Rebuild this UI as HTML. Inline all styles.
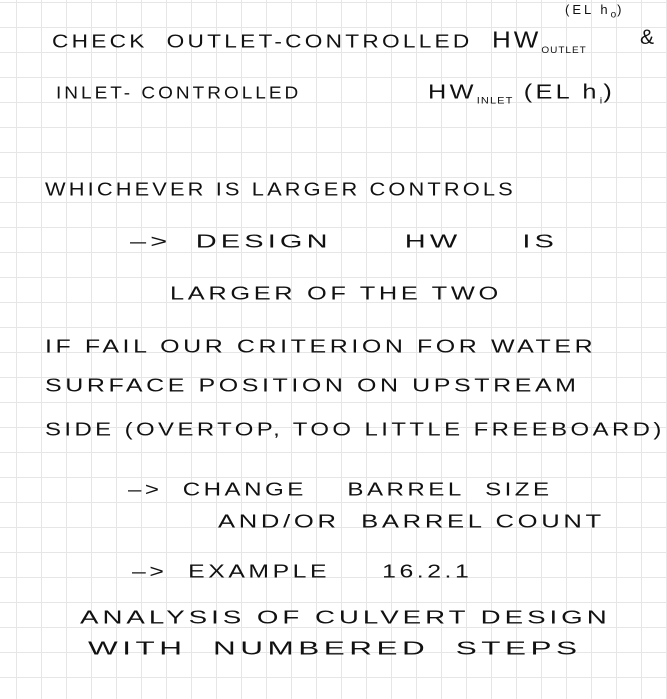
<!DOCTYPE html>
<html><head><style>
body{margin:0;width:667px;height:699px;overflow:hidden;background:#fff;
background-image:linear-gradient(to right,#e6e6e6 1px,transparent 1px),linear-gradient(to bottom,#e6e6e6 1px,transparent 1px);
background-size:25px 25px;background-position:16px 2px;position:relative;
font-family:"Liberation Sans",sans-serif;color:#111;}
.t{position:absolute;white-space:nowrap;font-size:21px;letter-spacing:3px;font-weight:normal;transform-origin:0 50%;}
sub{font-size:10px;letter-spacing:1px}
</style></head><body>
<div class="t" style="left:52px;top:30px;transform:scale(1.08,0.9)">CHECK&nbsp; OUTLET-CONTROLLED</div>
<div class="t" style="left:492px;top:24px;font-size:26px;transform:scaleY(0.9)">HW<sub>OUTLET</sub></div>
<div class="t" style="left:565px;top:2px;font-size:13px">(EL h<sub>o</sub>)</div>
<div class="t" style="left:640px;top:26px">&amp;</div>
<div class="t" style="left:56px;top:83px;font-size:19px;transform:scaleY(0.9)">INLET- CONTROLLED</div>
<div class="t" style="left:428px;top:78px;font-size:23px;transform:scale(1.1,0.9)">HW<sub>INLET</sub> (EL h<sub>i</sub>)</div>
<div class="t" style="left:45px;top:178px;transform:scale(1.04,0.9)">WHICHEVER IS LARGER CONTROLS</div>
<div class="t" style="left:130px;top:230px;transform:scale(1.38,0.9)">–&gt;&nbsp; DESIGN&nbsp;&nbsp;&nbsp;&nbsp;&nbsp; HW&nbsp;&nbsp;&nbsp;&nbsp; IS</div>
<div class="t" style="left:170px;top:282px;transform:scale(1.21,0.9)">LARGER OF THE TWO</div>
<div class="t" style="left:45px;top:335px;transform:scale(1.19,0.9)">IF FAIL OUR CRITERION FOR WATER</div>
<div class="t" style="left:45px;top:374px;transform:scale(1.19,0.9)">SURFACE POSITION ON UPSTREAM</div>
<div class="t" style="left:45px;top:418px;transform:scale(1.14,0.9)">SIDE (OVERTOP, TOO LITTLE FREEBOARD)</div>
<div class="t" style="left:128px;top:478px;transform:scale(1.15,0.9)">–&gt;&nbsp; CHANGE&nbsp;&nbsp;&nbsp; BARREL&nbsp; SIZE</div>
<div class="t" style="left:218px;top:510px;transform:scale(1.22,0.9)">AND/OR&nbsp; BARREL COUNT</div>
<div class="t" style="left:132px;top:560px;transform:scale(1.18,0.9)">–&gt;&nbsp; EXAMPLE&nbsp;&nbsp;&nbsp;&nbsp; 16.2.1</div>
<div class="t" style="left:80px;top:606px;transform:scale(1.32,0.9)">ANALYSIS OF CULVERT DESIGN</div>
<div class="t" style="left:88px;top:637px;transform:scale(1.5,0.9)">WITH&nbsp; NUMBERED&nbsp; STEPS</div>
</body></html>
